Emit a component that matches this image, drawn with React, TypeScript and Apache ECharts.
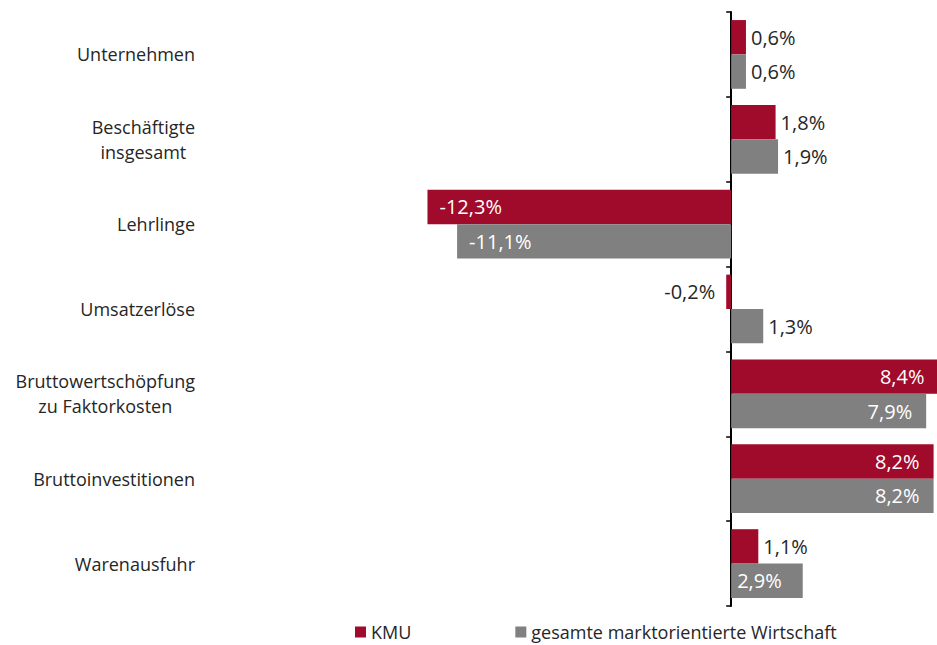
import React, { useEffect, useRef } from "react";
import * as echarts from "echarts";

const categories = [
  "Unternehmen",
  "Beschäftigte\ninsgesamt",
  "Lehrlinge",
  "Umsatzerlöse",
  "Bruttowertschöpfung\nzu Faktorkosten",
  "Bruttoinvestitionen",
  "Warenausfuhr",
];
const seriesNames = ["KMU", "gesamte marktorientierte Wirtschaft"];
const kmuValues = [0.6, 1.8, -12.3, -0.2, 8.4, 8.2, 1.1];
const gesamtValues = [0.6, 1.9, -11.1, 1.3, 7.9, 8.2, 2.9];
const kmuLabelPlacement = ["right", "right", "insideLeft", "left", "insideRight", "insideRight", "right"];
const gesamtLabelPlacement = ["right", "right", "insideLeft", "right", "insideRight", "insideRight", "insideLeft"];

const FONT = '"Open Sans", "Liberation Sans", sans-serif';
const DARK = "#262626";
const RED = "#A00A2B";
const GRAY = "#808080";

const fmt = (v: number) => v.toFixed(1).replace(".", ",") + "%";

function labelFor(v: number, placement: string) {
  const inside = placement.startsWith("inside");
  let distance = 5;
  if (placement === "left") distance = 11;
  if (placement === "insideRight") distance = 14;
  if (placement === "insideLeft") distance = v < 0 ? 12 : 6;
  return {
    show: true,
    position: placement,
    distance,
    color: inside ? "#ffffff" : DARK,
    fontSize: 20,
    fontFamily: FONT,
    formatter: () => fmt(v),
  };
}

function buildData(values: number[], placements: string[]) {
  return values.map((v, i) => ({ value: v, label: labelFor(v, placements[i]) }));
}

export default function App() {
  const ref = useRef<HTMLDivElement>(null);
  useEffect(() => {
    if (!ref.current) return;
    const chart = echarts.init(ref.current, undefined, { renderer: "svg" });
    chart.setOption({
      animation: false,
      backgroundColor: "#ffffff",
      grid: {
        left: 425,
        right: -4,
        top: 12,
        bottom: 39,
        containLabel: false,
        outerBoundsMode: "none",
      },
      legend: {
        data: seriesNames,
        left: 355,
        top: 623,
        padding: 0,
        icon: "rect",
        itemWidth: 11,
        itemHeight: 11,
        itemGap: 104,
        textStyle: { fontSize: 18, fontFamily: FONT, color: DARK, lineHeight: 18 },
      },
      xAxis: {
        type: "value",
        min: -12.4,
        max: 8.5,
        axisLine: { show: false },
        axisTick: { show: false },
        axisLabel: { show: false },
        splitLine: { show: false },
      },
      yAxis: {
        type: "category",
        data: categories,
        inverse: true,
        axisLine: { show: true, onZero: true, lineStyle: { color: "#000000", width: 2 } },
        axisTick: { show: true, length: 5, lineStyle: { color: "#000000", width: 1.5 } },
        axisLabel: {
          margin: 230,
          align: "right",
          formatter: (val: string) =>
            val
              .split("\n")
              .map((l) => `{c|${l}}`)
              .join("\n"),
          rich: {
            c: {
              align: "center",
              fontSize: 18,
              fontFamily: FONT,
              color: DARK,
              lineHeight: 25,
            },
          },
        },
      },
      series: [
        {
          name: seriesNames[0],
          type: "bar",
          data: buildData(kmuValues, kmuLabelPlacement),
          itemStyle: { color: RED },
          barCategoryGap: "19%",
          barGap: "0%",
        },
        {
          name: seriesNames[1],
          type: "bar",
          data: buildData(gesamtValues, gesamtLabelPlacement),
          itemStyle: { color: GRAY },
          barCategoryGap: "19%",
          barGap: "0%",
        },
      ],
    });
    return () => chart.dispose();
  }, []);
  return (
    <div
      ref={ref}
      style={{ position: "absolute", left: 0, top: 0, width: 937, height: 645 }}
    />
  );
}
